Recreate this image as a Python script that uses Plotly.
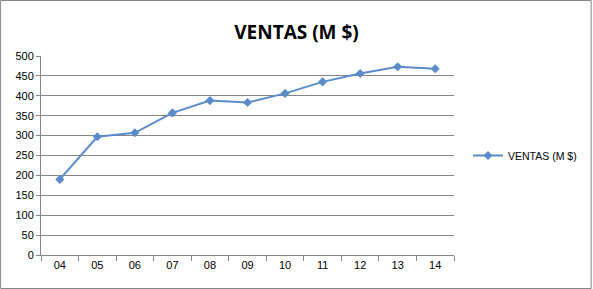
import plotly.graph_objects as go

categories = ["04", "05", "06", "07", "08", "09", "10", "11", "12", "13", "14"]
ventas = [190, 297, 307, 357, 388, 383, 406, 435, 456, 473, 468]
series_name = "VENTAS (M $)"
title_text = "VENTAS (M $)"

W, H = 593, 289
ml, mr, mt, mb = 41, 138, 56, 34
pw = W - ml - mr
ph = H - mt - mb

line_color = "#5A8CCB"
grid_color = "#868686"
font_family = "Liberation Sans, Arial, sans-serif"

fig = go.Figure()
fig.add_trace(go.Scatter(
    x=categories, y=ventas, name=series_name, mode="lines+markers",
    line=dict(color=line_color, width=2),
    marker=dict(symbol="diamond", size=7, color=line_color),
))

fig.update_layout(
    width=W, height=H,
    margin=dict(l=ml, r=mr, t=mt, b=mb, pad=0),
    paper_bgcolor="white", plot_bgcolor="white",
    font=dict(family=font_family, size=11, color="#000000"),
    title=dict(text="<b>" + title_text + "</b>", x=0.5, xanchor="center",
               y=1 - 32 / H, yanchor="middle",
               font=dict(family="Open Sans, Liberation Sans, sans-serif", size=19, color="#000000")),
    showlegend=True,
    legend=dict(x=1 + 13 / pw, xanchor="left", y=0.5, yanchor="middle",
                font=dict(size=10.5), bgcolor="rgba(0,0,0,0)", itemwidth=30),
    xaxis=dict(type="category", range=[-0.5, 10.5], showgrid=False,
               showline=True, linecolor=grid_color, linewidth=1,
               ticks="outside", tickson="boundaries", ticklen=5, tickcolor=grid_color,
               tickfont=dict(size=11), fixedrange=True),
    yaxis=dict(range=[0, 500], dtick=50, tick0=0, showgrid=True, gridcolor=grid_color,
               gridwidth=1, showline=True, linecolor=grid_color, linewidth=1,
               ticks="outside", ticklen=4, tickcolor=grid_color, zeroline=False,
               tickfont=dict(size=11), fixedrange=True),
    shapes=[dict(type="rect", xref="paper", yref="paper",
                 x0=-(ml - 0.5) / pw, x1=1 + (mr - 0.5) / pw,
                 y0=-(mb - 0.5) / ph, y1=1 + (mt - 0.5) / ph,
                 line=dict(color="#878787", width=1), layer="below")],
)

fig.write_html("out.html", config={"displayModeBar": False},
               post_script="document.body.style.margin='0';document.body.style.overflow='hidden';")
